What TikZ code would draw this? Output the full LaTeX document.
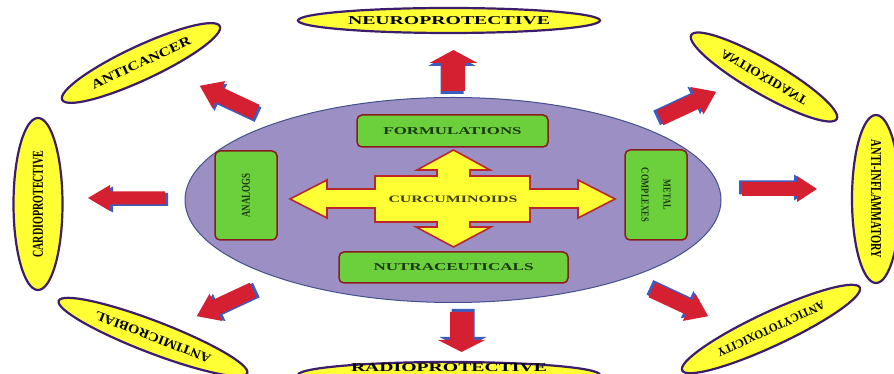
\documentclass[tikz,border=0pt]{standalone}
\usepackage{fontspec}
\setmainfont{Liberation Serif}
\usepackage{graphicx}
\usetikzlibrary{shapes.geometric}
\definecolor{ellfill}{HTML}{FFFF33}
\definecolor{ellborder}{HTML}{3C1C6C}
\definecolor{bigfill}{HTML}{9C8FC4}
\definecolor{bigborder}{HTML}{44508F}
\definecolor{boxfill}{HTML}{6CCF3C}
\definecolor{boxborder}{HTML}{8A1C1C}
\definecolor{boxtext}{HTML}{1B3A10}
\definecolor{curctext}{HTML}{3F3F0A}
\definecolor{crossfill}{HTML}{FFFF33}
\definecolor{crossborder}{HTML}{B8282A}
\definecolor{arrred}{HTML}{D42030}
\definecolor{arrblue}{HTML}{3C5CC0}
\newcommand{\lbl}[3]{\resizebox{#1pt}{#2pt}{\bfseries #3}}
% block arrow: tail x, tail y, angle, length, shaft half, head half, head length
\newcommand{\barrow}[7]{%
  \begin{scope}[shift={(#1,#2)},rotate=#3]
    \fill[arrblue,xshift=-3pt,yshift=1.5pt] (0,-#5) -- (#4-#7,-#5) -- (#4-#7,-#6) -- (#4,0) -- (#4-#7,#6) -- (#4-#7,#5) -- (0,#5) -- cycle;
    \fill[arrred] (0,-#5) -- (#4-#7,-#5) -- (#4-#7,-#6) -- (#4,0) -- (#4-#7,#6) -- (#4-#7,#5) -- (0,#5) -- cycle;
  \end{scope}}
\begin{document}
\begin{tikzpicture}[x=1pt,y=1pt,
  outer/.style={ellipse, draw=ellborder, fill=ellfill, line width=2.2pt, inner sep=0pt, text=black},
  gbox/.style={rectangle, rounded corners=5pt, draw=boxborder, fill=boxfill, line width=1.5pt, inner sep=0pt, text=boxtext}]
\useasboundingbox (0,0) rectangle (894,374);
\fill[white] (0,0) rectangle (894,374);
% central ellipse
\node[ellipse, draw=bigborder, fill=bigfill, line width=1pt, minimum width=536pt, minimum height=205pt, inner sep=0pt] (core) at (453,174) {};
% four-way arrow
\draw[fill=crossfill, draw=crossborder, line width=1.6pt, line join=miter]
  (290,175) -- (327,194) -- (327,185) -- (375,185) -- (375,198) -- (437,198) -- (437,204) -- (417,204) -- (453.5,224) -- (490,204) -- (470,204) -- (470,198) -- (530,198) -- (530,185) -- (578,185) -- (578,194) -- (615,175) -- (578,156) -- (578,166) -- (530,166) -- (530,152) -- (470,152) -- (470,147) -- (491,147) -- (453.5,127) -- (416,147) -- (437,147) -- (437,152) -- (375,152) -- (375,166) -- (327,166) -- (327,156) -- cycle;
\node[text=curctext] (curc) at (453,175) {\lbl{129}{6.5}{CURCUMINOIDS}};
% green boxes
\node[gbox, minimum width=191pt, minimum height=32pt] (form) at (452.5,243) {\lbl{138}{7}{FORMULATIONS}};
\node[gbox, minimum width=229pt, minimum height=31pt] (nutra) at (453.5,106.5) {\lbl{160}{7}{NUTRACEUTICALS}};
\node[gbox, rotate=90, minimum width=89pt, minimum height=62pt] (analog) at (246,178.5) {\lbl{44}{8}{ANALOGS}};
\node[gbox, rotate=-90, minimum width=90pt, minimum height=62pt, align=center, font=\fontsize{8}{22}\selectfont] (metal) at (656,179) {\lbl{30}{7}{METAL}\\\lbl{54}{7}{COMPLEXES}};
% outer ellipses
\node[outer, minimum width=302pt, minimum height=25pt] (neuro) at (449,353.5) {\lbl{202}{8}{NEUROPROTECTIVE}};
\node[outer, minimum width=302pt, minimum height=26pt] (radio) at (449,-1) {};
\node (radiotxt) at (449,6) {\lbl{196}{8}{RADIOPROTECTIVE}};
\node[outer, rotate=90, minimum width=172pt, minimum height=49pt] (cardio) at (38,170) {\lbl{107}{10}{CARDIOPROTECTIVE}};
\node[outer, rotate=-90, minimum width=168pt, minimum height=48pt] (antiinf) at (876,175) {\lbl{118}{10}{ANTI-INFLAMMATORY}};
\node[outer, rotate=25, minimum width=174pt, minimum height=34pt] (cancer) at (141,311) {\lbl{108}{8.5}{ANTICANCER}};
\node[outer, rotate=-30, minimum width=168pt, minimum height=34pt] (oxid) at (764,297) {\scalebox{1}[-1]{\lbl{97}{8.5}{ANTIOXIDANT}}};
\node[outer, rotate=159, minimum width=202pt, minimum height=32pt] (micro) at (153,37) {\lbl{123}{8.5}{ANTIMICROBIAL}};
\node[outer, rotate=205, minimum width=196pt, minimum height=34pt] (cyto) at (771,45) {\lbl{117}{8}{ANTICYTOTOXICITY}};
% block arrows
\barrow{453.5}{283}{90}{41}{11.5}{24}{13}
\barrow{461.5}{62}{-90}{40}{11.5}{23.5}{12}
\barrow{165}{176}{180}{77}{6.5}{13}{22}
\barrow{742}{185}{0}{75}{7}{13}{20}
\barrow{256}{262}{155}{62}{8}{15}{21}
\barrow{660}{256}{25}{62}{8}{15}{21}
\barrow{253}{84}{205}{62}{8}{15}{21}
\barrow{652}{84}{-25}{62}{8}{15}{21}
\end{tikzpicture}
\end{document}
